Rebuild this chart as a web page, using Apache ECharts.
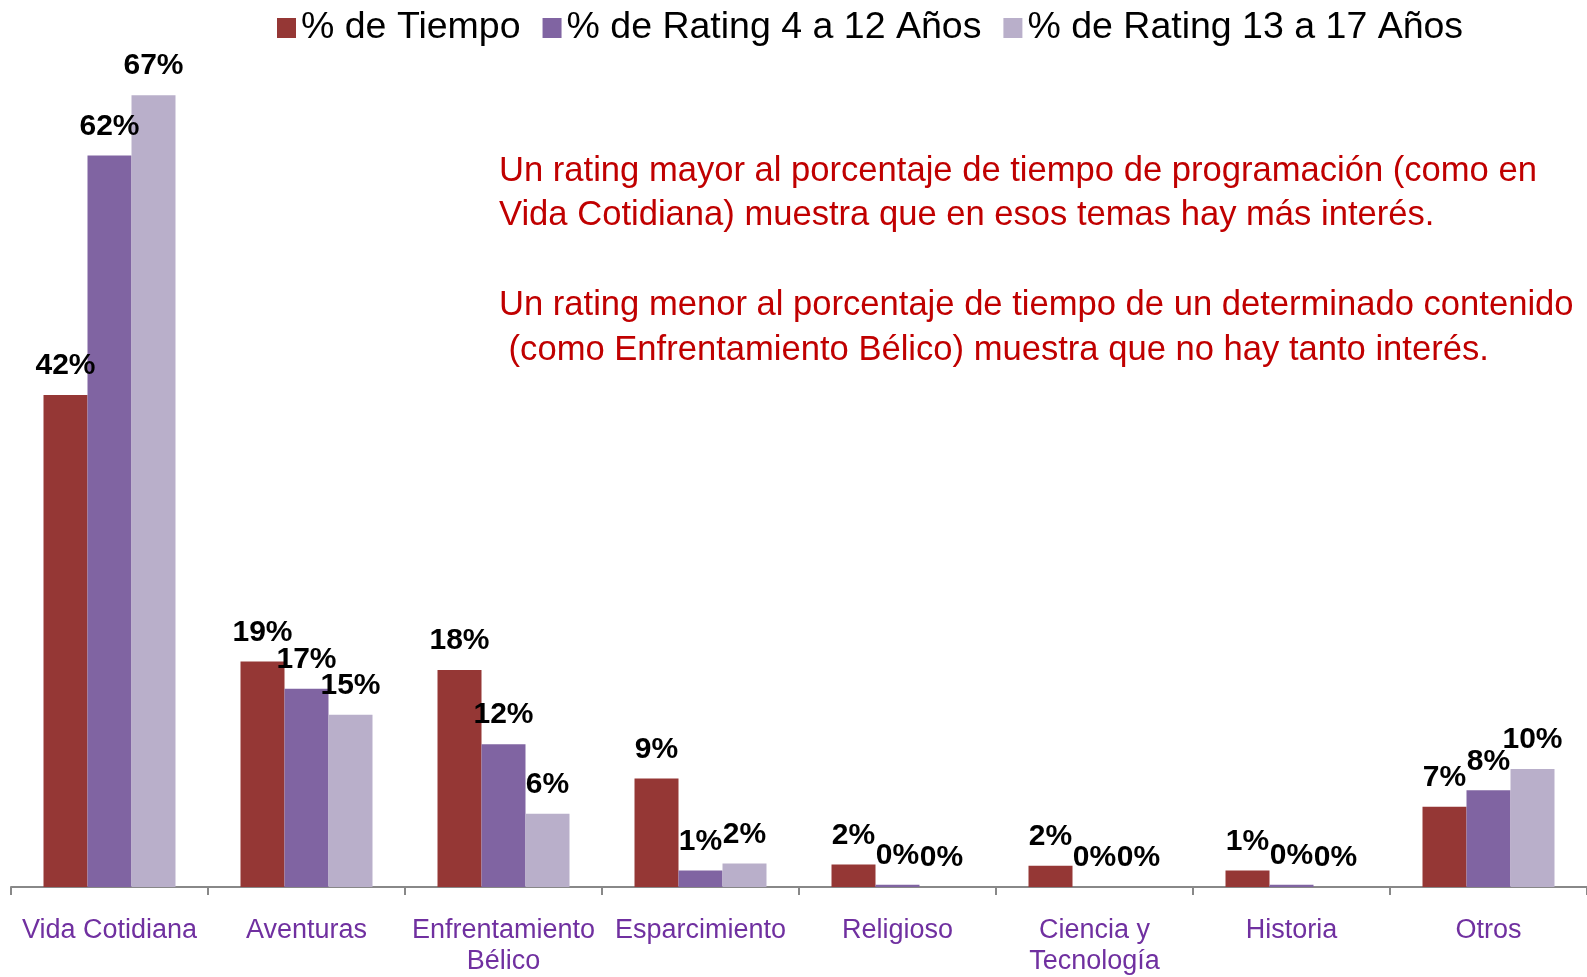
<!DOCTYPE html>
<html>
<head>
<meta charset="utf-8">
<script src="https://cdn.jsdelivr.net/npm/echarts@6/dist/echarts.min.js"></script>
<style>
  html, body { margin: 0; padding: 0; background: #fff; }
  #chart { width: 1587px; height: 977px; }
</style>
</head>
<body>
<div id="chart"></div>
<script>
// categorias y valores
const categorias = ['Vida Cotidiana', 'Aventuras', 'Enfrentamiento\nBélico', 'Esparcimiento',
  'Religioso', 'Ciencia y\nTecnología', 'Historia', 'Otros']
const tiempo = [41.7, 19.1, 18.4, 9.2, 1.9, 1.8, 1.4, 6.8]
const rating4a12 = [62.0, 16.8, 12.1, 1.4, 0.2, 0.0, 0.2, 8.2]
const rating13a17 = [67.1, 14.6, 6.2, 2.0, 0.0, 0.0, 0.0, 10.0]
const nombres = ['% de Tiempo', '% de Rating 4 a 12 Años', '% de Rating 13 a 17 Años']
const colores = ['#953735', '#8064A2', '#B9AFCA']

const notas = [
  'Un rating mayor al porcentaje de tiempo de programación (como en',
  'Vida Cotidiana) muestra que en esos temas hay más interés.',
  'Un rating menor al porcentaje de tiempo de un determinado contenido',
  ' (como Enfrentamiento Bélico) muestra que no hay tanto interés.'
]

const font = "'Liberation Sans', Arial, sans-serif"

const chart = echarts.init(document.getElementById('chart'))

const serie = (name, data, color) => ({
  name,
  type: 'bar',
  data,
  barGap: '0%',
  barCategoryGap: '33%',
  itemStyle: { color },
  label: {
    show: true,
    position: 'top',
    distance: 14,
    formatter: p => Math.round(p.value) + '%',
    fontFamily: font,
    fontWeight: 'bold',
    fontSize: 30,
    color: '#000'
  }
})

const notasY = [171, 215, 305, 350]

chart.setOption({
  animation: false,
  backgroundColor: '#fff',
  color: colores,
  legend: {
    top: 4,
    left: 272,
    itemWidth: 19,
    itemHeight: 20,
    itemGap: 22,
    icon: 'rect',
    textStyle: { fontFamily: font, fontSize: 37.5, color: '#000' },
    data: nombres
  },
  grid: { left: 11, right: 0, top: 61, bottom: 80, containLabel: false },
  xAxis: {
    type: 'category',
    data: categorias,
    axisLine: { lineStyle: { color: '#888', width: 2 } },
    axisTick: { show: true, interval: 0, length: 8, lineStyle: { color: '#888', width: 2 } },
    axisLabel: {
      interval: 0,
      fontFamily: font,
      fontSize: 27,
      color: '#7030A0',
      margin: 28,
      lineHeight: 31
    }
  },
  yAxis: {
    type: 'value',
    min: 0,
    max: 70,
    show: false,
    splitLine: { show: false }
  },
  graphic: notas.map((t, i) => ({
    type: 'text',
    left: 499,
    top: notasY[i] - 17,
    style: { text: t, fontFamily: font, fontSize: 34.6, fill: '#C00000' }
  })),
  series: [
    serie(nombres[0], tiempo, colores[0]),
    serie(nombres[1], rating4a12, colores[1]),
    serie(nombres[2], rating13a17, colores[2])
  ]
})
</script>
</body>
</html>
